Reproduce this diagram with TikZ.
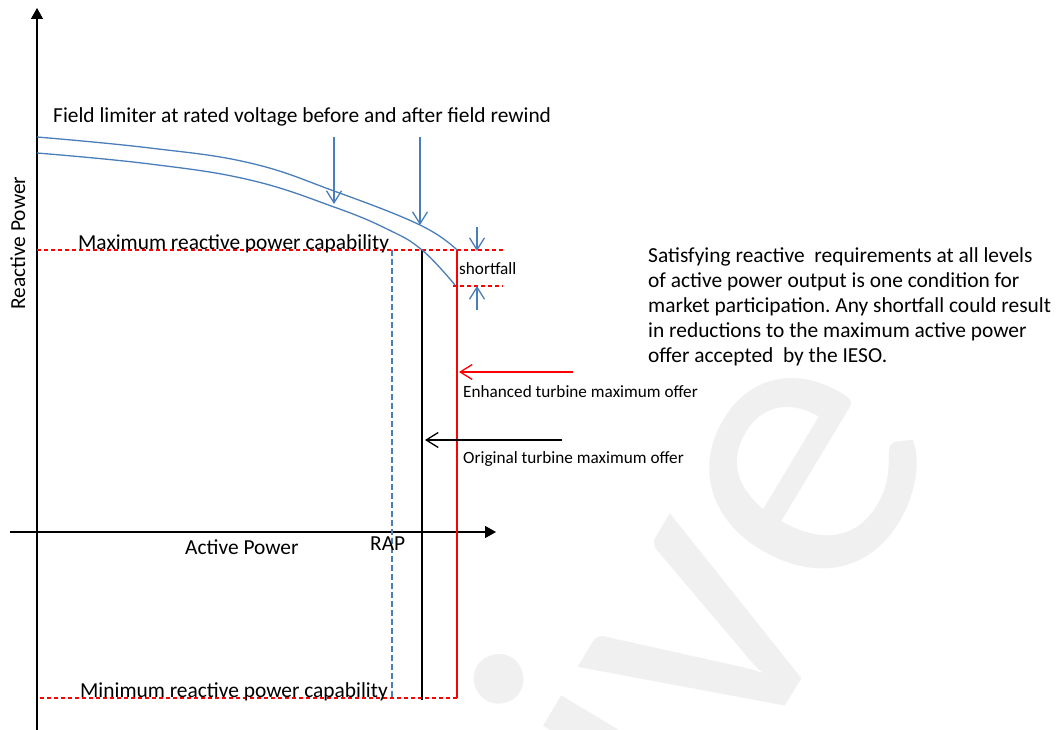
\documentclass[tikz,border=0pt]{standalone}
\usepackage{fontspec}
\setmainfont{Carlito}
\usepackage{xcolor}
\definecolor{Col1}{RGB}{74,126,187}
\definecolor{Col2}{RGB}{255,0,0}
\definecolor{Col3}{RGB}{240,240,240}
\usepackage{tikz}
\usetikzlibrary{arrows.meta}
\tikzstyle{Axis}=[draw=black,line width=1.4pt,-{Triangle[length=11pt,width=12pt]}]
\tikzstyle{Curve}=[draw=Col1,line width=1.3pt]
\tikzstyle{Pointer}=[draw=Col1,line width=1.3pt,
-{Straight Barb[length=12pt,width=15pt]}]
\tikzstyle{Limit}=[draw=Col2,line width=1.1pt,dash pattern=on 4pt off 3pt]
\tikzstyle{Rap}=[draw=Col1,line width=1.3pt,dash pattern=on 6pt off 3pt]
\tikzstyle{Offer}=[line width=1.3pt]
\tikzstyle{Label}=[inner sep=0pt,anchor=base west,
font=\fontsize{21.4}{25}\selectfont]
\tikzstyle{LabelS}=[inner sep=0pt,anchor=base west,
font=\fontsize{17.2}{20}\selectfont]
\frenchspacing

\begin{document}
\begin{tikzpicture}[x=1pt,y=-1pt]
        \useasboundingbox(0,0)rectangle(1060,730);
        \clip(0,0)rectangle(1060,730);
        % watermark
        \node[inner sep=0pt,anchor=base west,rotate=59,text=Col3,
            font=\fontsize{414}{414}\selectfont](wm)at(697,854){ive};
        % axes
        \coordinate(yb)at(37,730);
        \coordinate(yt)at(37,8);
        \coordinate(xl)at(10,532);
        \coordinate(xr)at(496,532);
        \draw[Axis](yb)--(yt);
        \draw[Axis](xl)--(xr);
        % capability limits
        \coordinate(max0)at(37,250);
        \coordinate(max1)at(503,250);
        \coordinate(min0)at(40,698);
        \coordinate(min1)at(458,698);
        \coordinate(sf0)at(453,286);
        \coordinate(sf1)at(503,286);
        \draw[Limit](max0)--(max1);
        \draw[Limit](min0)--(min1);
        \draw[Limit](sf0)--(sf1);
        % offers
        \coordinate(rap0)at(392,250);
        \coordinate(rap1)at(392,697);
        \coordinate(org0)at(422,250);
        \coordinate(org1)at(422,700);
        \coordinate(enh0)at(457,250);
        \coordinate(enh1)at(457,698);
        \draw[Rap](rap0)--(rap1);
        \draw[Offer,draw=black](org0)--(org1);
        \draw[Offer,draw=Col2](enh0)--(enh1);
        % field limiter curves
        \draw[Curve]plot[smooth,tension=.7]coordinates{(37,137)(150,148)
            (250,163)(334,191)(420,225)(457,250)};
        \draw[Curve]plot[smooth,tension=.7]coordinates{(37,153)(150,164)
            (250,180)(334,207)(387,229)(422,250)(455,285)};
        \coordinate(a1)at(334,137);
        \coordinate(a1t)at(334,204);
        \coordinate(a2)at(420,137);
        \coordinate(a2t)at(420,225);
        \coordinate(s1)at(477,227);
        \coordinate(s1t)at(477,251);
        \coordinate(s2)at(477,310);
        \coordinate(s2t)at(477,286);
        \draw[Pointer](a1)--(a1t);
        \draw[Pointer](a2)--(a2t);
        \draw[Pointer](s1)--(s1t);
        \draw[Pointer](s2)--(s2t);
        \coordinate(e0)at(573,372);
        \coordinate(e1)at(459,372);
        \coordinate(o0)at(562,440);
        \coordinate(o1)at(425,440);
        \draw[Pointer,draw=Col2](e0)--(e1);
        \draw[Pointer,draw=black](o0)--(o1);
        % labels
        \node[Label](fl)at(53,123)
            {Field limiter at rated voltage before and after field rewind};
        \node[Label](maxq)at(78,249){Maximum reactive power capability};
        \node[Label](minq)at(80,697){Minimum reactive power capability};
        \node[Label](p)at(185,554){Active Power};
        \node[Label](rap)at(370,550){RAP};
        \node[Label,rotate=90](q)at(25,310){Reactive Power};
        \node[LabelS](sf)at(459,274){shortfall};
        \node[LabelS](enh)at(463,397){Enhanced turbine maximum offer};
        \node[LabelS](orig)at(463,463){Original turbine maximum offer};
        \node[Label,anchor=north west,align=left](txt)at(648,247)
            {Satisfying reactive~ requirements at all levels\\
            of active power output is one condition for\\
            market participation. Any shortfall could result\\
            in reductions to the maximum active power\\
            offer accepted~ by the IESO.};
    \end{tikzpicture}
\end{document}
